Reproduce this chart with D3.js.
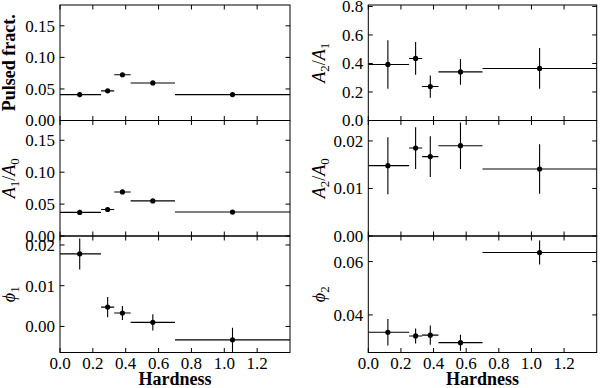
<!DOCTYPE html>
<html>
<head>
<meta charset="utf-8">
<script src="https://cdn.jsdelivr.net/npm/d3@7"></script>
<style>
  body { margin: 0; background: #fff; }
  svg { display: block; font-family: "Liberation Serif", "DejaVu Serif", serif; }
  .frame { fill: none; stroke: #000; stroke-width: 1; }
  .tick { stroke: #000; stroke-width: 1; }
  .bar { stroke: #000; stroke-width: 1.1; }
</style>
</head>
<body>
<div id="chart"></div>
<script>
// ============ data ============
const hardness = [0.12, 0.29, 0.38, 0.565, 1.05];
const binLo = [0.0, 0.25, 0.33, 0.43, 0.70];
const binHi = [0.25, 0.33, 0.43, 0.70, 1.5];

const pulsedFrac = [0.041, 0.047, 0.0725, 0.0595, 0.041];
const pulsedFracErr = [0.004, 0.002, 0.003, 0.003, 0.003];
const a1a0 = [0.037, 0.0415, 0.069, 0.055, 0.0375];
const a1a0Err = [0.004, 0.003, 0.003, 0.003, 0.003];
const phi1 = [0.0178, 0.00475, 0.0033, 0.001, -0.0033];
const phi1Err = [0.0038, 0.0025, 0.0017, 0.002, 0.003];
const a2a1 = [0.393, 0.435, 0.238, 0.341, 0.365];
const a2a1Err = [0.17, 0.115, 0.078, 0.09, 0.143];
const a2a0 = [0.0148, 0.0185, 0.0167, 0.019, 0.0141];
const a2a0Err = [0.006, 0.0044, 0.0043, 0.0049, 0.0052];
const phi2 = [0.0335, 0.0321, 0.0324, 0.0296, 0.0634];
const phi2Err = [0.005, 0.0028, 0.0036, 0.003, 0.0045];

const xTicks = [0.0, 0.2, 0.4, 0.6, 0.8, 1.0, 1.2];

// ============ layout ============
const width = 600, height = 388;
const cols = [{ x0: 60, x1: 290 }, { x0: 368.3, x1: 596.7 }];
const rows = [5, 120.5, 236, 352.5];
const fs = 17;

// label parts: [text, italic, subscript]
const panels = [
  { col: 0, row: 0, vals: pulsedFrac, err: pulsedFracErr, domain: [0, 0.183],
    ticks: [0, 0.05, 0.10, 0.15], fmt: '.2f', label: [['Pulsed fract.', false, false]], bold: true },
  { col: 0, row: 1, vals: a1a0, err: a1a0Err, domain: [0, 0.181],
    ticks: [0, 0.05, 0.10, 0.15], fmt: '.2f', label: [['A', true, false], ['1', false, true], ['/', false, false], ['A', true, false], ['0', false, true]] },
  { col: 0, row: 2, vals: phi1, err: phi1Err, domain: [-0.0064, 0.0222],
    ticks: [0, 0.01, 0.02], fmt: '.2f', label: [['ϕ', true, false], ['1', false, true]], xlab: true },
  { col: 1, row: 0, vals: a2a1, err: a2a1Err, domain: [0, 0.81],
    ticks: [0, 0.2, 0.4, 0.6, 0.8], fmt: '.1f', label: [['A', true, false], ['2', false, true], ['/', false, false], ['A', true, false], ['1', false, true]] },
  { col: 1, row: 1, vals: a2a0, err: a2a0Err, domain: [0, 0.0243],
    ticks: [0, 0.01, 0.02], fmt: '.2f', label: [['A', true, false], ['2', false, true], ['/', false, false], ['A', true, false], ['0', false, true]] },
  { col: 1, row: 2, vals: phi2, err: phi2Err, domain: [0.0259, 0.0696],
    ticks: [0.04, 0.06], fmt: '.2f', label: [['ϕ', true, false], ['2', false, true]], xlab: true }
];

const svg = d3.select('#chart').append('svg')
  .attr('width', width)
  .attr('height', height);

const defs = svg.append('defs');

panels.forEach((p, i) => {
  const c = cols[p.col];
  const top = rows[p.row], bottom = rows[p.row + 1];
  const x = d3.scaleLinear().domain([0, 1.4]).range([c.x0, c.x1]);
  const y = d3.scaleLinear().domain(p.domain).range([bottom, top]);

  defs.append('clipPath').attr('id', 'clip' + i)
    .append('rect')
    .attr('x', c.x0).attr('y', top)
    .attr('width', c.x1 - c.x0).attr('height', bottom - top);

  const g = svg.append('g');
  const data = hardness.map((h, k) => ({ h, lo: binLo[k], hi: binHi[k], v: p.vals[k], e: p.err[k] }));

  // 数据
  const d = g.append('g').attr('clip-path', `url(#clip${i})`);
  d.selectAll('line.hbar').data(data).join('line')
    .attr('class', 'bar')
    .attr('x1', r => x(r.lo)).attr('x2', r => x(r.hi))
    .attr('y1', r => y(r.v)).attr('y2', r => y(r.v));
  d.selectAll('line.vbar').data(data).join('line')
    .attr('class', 'bar')
    .attr('x1', r => x(r.h)).attr('x2', r => x(r.h))
    .attr('y1', r => y(r.v - r.e)).attr('y2', r => y(r.v + r.e));
  d.selectAll('circle').data(data).join('circle')
    .attr('cx', r => x(r.h)).attr('cy', r => y(r.v))
    .attr('r', 2.6).attr('fill', '#000');

  // 刻度 (inward, all four sides)
  const tk = 4.5;
  xTicks.forEach(t => {
    g.append('line').attr('class', 'tick')
      .attr('x1', x(t)).attr('x2', x(t)).attr('y1', bottom).attr('y2', bottom - tk);
    g.append('line').attr('class', 'tick')
      .attr('x1', x(t)).attr('x2', x(t)).attr('y1', top).attr('y2', top + tk);
  });
  p.ticks.forEach(t => {
    g.append('line').attr('class', 'tick')
      .attr('x1', c.x0).attr('x2', c.x0 + tk).attr('y1', y(t)).attr('y2', y(t));
    g.append('line').attr('class', 'tick')
      .attr('x1', c.x1).attr('x2', c.x1 - tk).attr('y1', y(t)).attr('y2', y(t));
    g.append('text')
      .attr('x', c.x0 - 5).attr('y', y(t))
      .attr('dy', '0.35em')
      .attr('text-anchor', 'end')
      .attr('font-size', fs)
      .text(d3.format(p.fmt)(t));
  });

  g.append('rect').attr('class', 'frame')
    .attr('x', c.x0).attr('y', top)
    .attr('width', c.x1 - c.x0).attr('height', bottom - top);

  if (p.xlab) {
    xTicks.forEach(t => {
      g.append('text')
        .attr('x', x(t)).attr('y', bottom + 16)
        .attr('text-anchor', 'middle')
        .attr('font-size', fs)
        .text(d3.format('.1f')(t));
    });
    g.append('text')
      .attr('x', (c.x0 + c.x1) / 2).attr('y', 385)
      .attr('text-anchor', 'middle')
      .attr('font-size', 18)
      .attr('font-weight', 'bold')
      .text('Hardness');
  }

  // y 轴标题
  const lx = c.x0 - (p.col === 0 ? 45 : 43);
  const ly = (top + bottom) / 2;
  const lt = g.append('text')
    .attr('transform', `translate(${lx},${ly}) rotate(-90)`)
    .attr('text-anchor', 'middle')
    .attr('font-size', 18)
    .attr('font-weight', p.bold ? 'bold' : 'normal');
  let shifted = false;
  p.label.forEach(([s, it, sub]) => {
    const ts = lt.append('tspan').text(s);
    if (it) ts.attr('font-style', 'italic');
    if (sub && !shifted) { ts.attr('dy', 4).attr('font-size', 13); shifted = true; }
    else if (sub) { ts.attr('font-size', 13); }
    else if (shifted) { ts.attr('dy', -4); shifted = false; }
  });
});
</script>
</body>
</html>
